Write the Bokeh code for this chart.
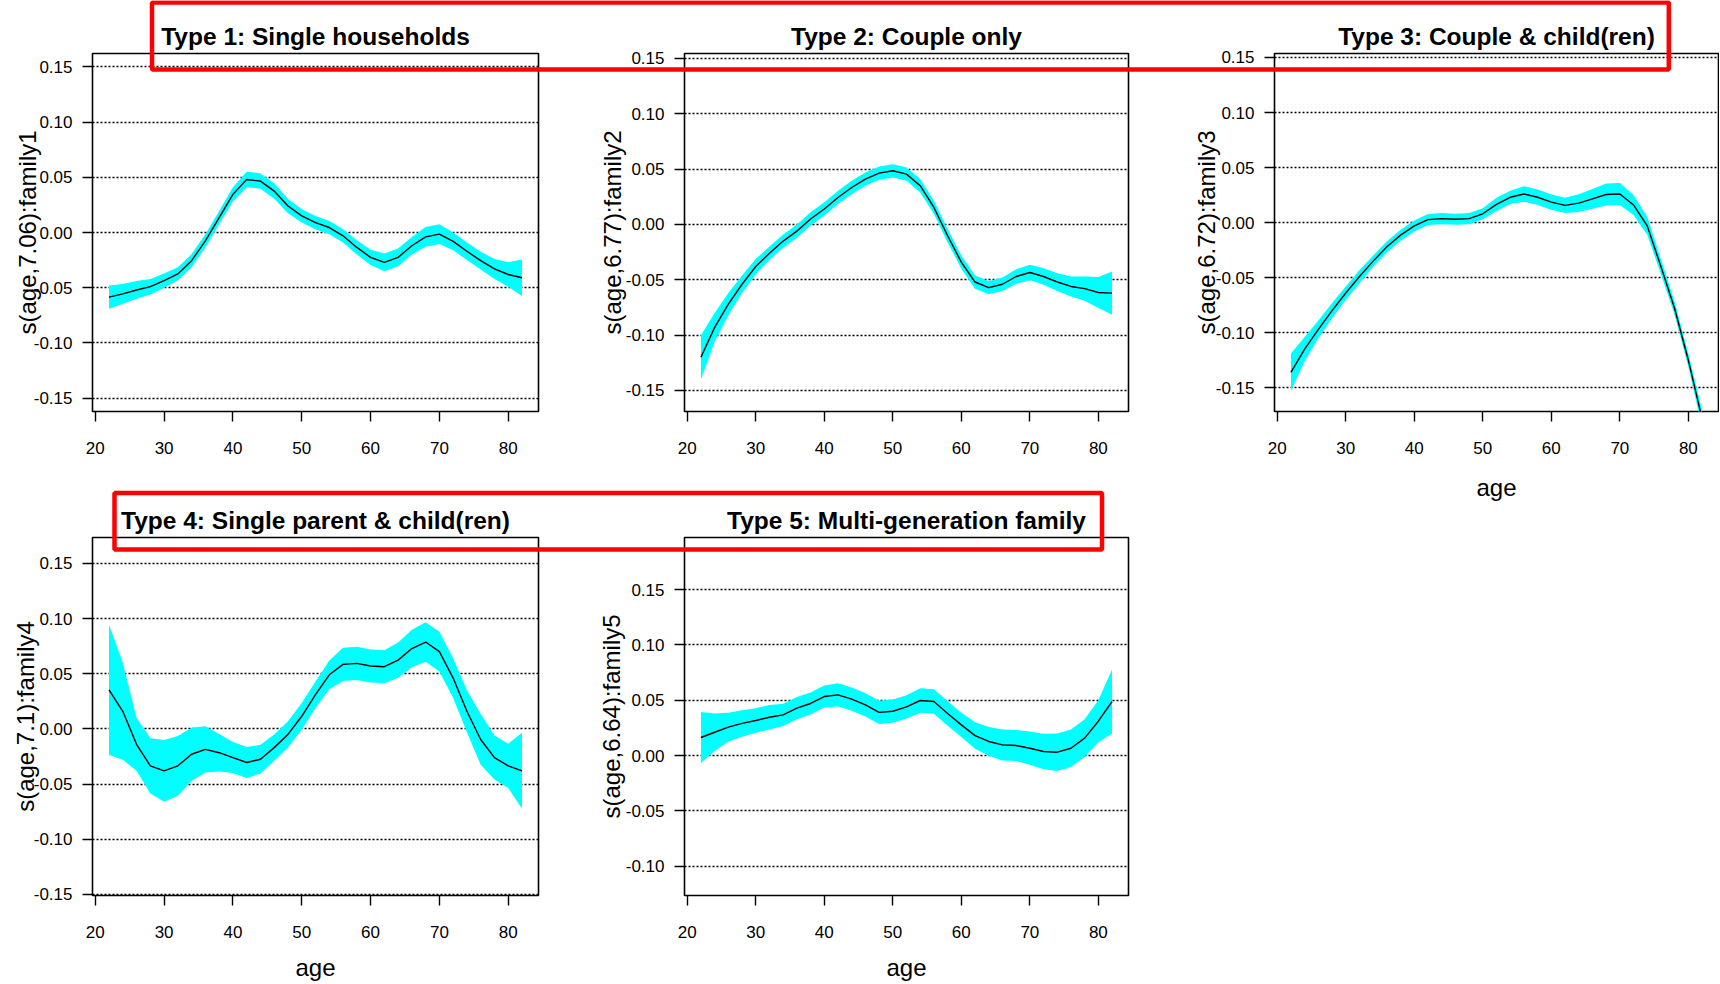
import numpy as np
from bokeh.plotting import figure
from bokeh.layouts import row, column
from bokeh.models import Range1d, FixedTicker, PrintfTickFormatter, BoxAnnotation, ColumnDataSource
from bokeh.embed import file_html
from bokeh.resources import INLINE

# ---------------- data ----------------
ages = [22, 24, 26, 28, 30, 32, 34, 36, 38, 40, 42, 44, 46, 48, 50, 52,
        54, 56, 58, 60, 62, 64, 66, 68, 70, 72, 74, 76, 78, 80, 82]

fit1 = [-0.0585, -0.0555, -0.052, -0.049, -0.0435, -0.0375, -0.0255, -0.0075, 0.0135, 0.0345, 0.048,
        0.0465, 0.0375, 0.024, 0.015, 0.009, 0.0045, -0.003, -0.0135, -0.0225, -0.027, -0.0225,
        -0.012, -0.004, -0.0015, -0.008, -0.017, -0.0255, -0.033, -0.038, -0.041]
se1 = [0.0105, 0.009, 0.008, 0.007, 0.0065, 0.006, 0.006, 0.006, 0.006, 0.0065, 0.007,
       0.007, 0.007, 0.0065, 0.006, 0.006, 0.006, 0.006, 0.0065, 0.007, 0.008, 0.008,
       0.008, 0.009, 0.009, 0.008, 0.008, 0.008, 0.009, 0.011, 0.0165]

fit2 = [-0.120, -0.093, -0.072, -0.054, -0.038, -0.026, -0.015, -0.006, 0.005, 0.014, 0.0244,
        0.0334, 0.041, 0.0464, 0.0485, 0.0455, 0.035, 0.0154, -0.0102, -0.034, -0.052, -0.057,
        -0.054, -0.047, -0.0434, -0.047, -0.052, -0.056, -0.058, -0.0615, -0.062]
se2 = [0.020, 0.013, 0.010, 0.008, 0.007, 0.006, 0.006, 0.006, 0.006, 0.006, 0.006,
       0.006, 0.006, 0.006, 0.006, 0.006, 0.006, 0.006, 0.006, 0.006, 0.006, 0.006,
       0.006, 0.0065, 0.007, 0.0075, 0.008, 0.009, 0.011, 0.014, 0.0195]

fit3 = [-0.136, -0.115, -0.097, -0.080, -0.064, -0.049, -0.035, -0.022, -0.0114, -0.003, 0.0027,
        0.0036, 0.003, 0.0036, 0.008, 0.0165, 0.023, 0.026, 0.023, 0.0186, 0.0156, 0.0177,
        0.0216, 0.0255, 0.026, 0.016, -0.003, -0.040, -0.078, -0.125, -0.178]
se3 = [0.017, 0.011, 0.008, 0.007, 0.006, 0.006, 0.005, 0.005, 0.005, 0.005, 0.005,
       0.005, 0.005, 0.005, 0.005, 0.006, 0.006, 0.007, 0.007, 0.007, 0.007, 0.008,
       0.009, 0.010, 0.010, 0.009, 0.008, 0.007, 0.006, 0.006, 0.008]

fit4 = [0.0353, 0.0159, -0.014, -0.0335, -0.038, -0.0335, -0.023, -0.0186, -0.0216, -0.026, -0.0305,
        -0.0275, -0.017, -0.005, 0.0114, 0.031, 0.049, 0.0584, 0.0593, 0.057, 0.0563, 0.0623,
        0.0728, 0.0787, 0.070, 0.046, 0.0159, -0.0096, -0.026, -0.0335, -0.038]
se4 = [0.059, 0.044, 0.024, 0.025, 0.028, 0.027, 0.024, 0.021, 0.017, 0.014, 0.014,
       0.013, 0.012, 0.012, 0.012, 0.012, 0.013, 0.015, 0.015, 0.015, 0.015, 0.016,
       0.017, 0.018, 0.018, 0.018, 0.019, 0.023, 0.020, 0.020, 0.0345]

fit5 = [0.0163, 0.021, 0.0256, 0.029, 0.0316, 0.0346, 0.0367, 0.0428, 0.047, 0.0533, 0.0548,
        0.051, 0.0458, 0.039, 0.040, 0.044, 0.0497, 0.0488, 0.038, 0.0277, 0.018, 0.0127,
        0.0096, 0.009, 0.0066, 0.0036, 0.003, 0.0066, 0.0157, 0.031, 0.0488]
se5 = [0.023, 0.017, 0.013, 0.012, 0.011, 0.011, 0.010, 0.010, 0.010, 0.010, 0.0105,
       0.0105, 0.0105, 0.0105, 0.0105, 0.0105, 0.011, 0.011, 0.011, 0.011, 0.012, 0.013,
       0.014, 0.014, 0.015, 0.016, 0.017, 0.017, 0.017, 0.019, 0.029]

titles = ["Type 1: Single households", "Type 2: Couple only", "Type 3: Couple & child(ren)",
          "Type 4: Single parent & child(ren)", "Type 5: Multi-generation family"]
ylabels = ["s(age,7.06):family1", "s(age,6.77):family2", "s(age,6.72):family3",
           "s(age,7.1):family4", "s(age,6.64):family5"]
ylims = [(-0.162, 0.162), (-0.169, 0.1545), (-0.1716, 0.1536), (-0.151, 0.1734), (-0.1265, 0.197)]
yticks = [-0.15, -0.10, -0.05, 0.0, 0.05, 0.10, 0.15]
xticks = [20, 30, 40, 50, 60, 70, 80]

FONT = "Liberation Sans"
PAGE_W, PAGE_H = 1719, 984


def make_panel(fit, se, title, ylabel, ylim, bl, fw, br, bt, fh, bb, als, xlabel=None, xals=15):
    span = max(ages) - min(ages)
    xr = (min(ages) - 0.04 * span, max(ages) + 0.04 * span)
    p = figure(frame_width=fw, frame_height=fh,
               min_border_left=bl, min_border_right=br, min_border_top=bt, min_border_bottom=bb,
               x_range=Range1d(*xr), y_range=Range1d(*ylim),
               output_backend="svg", toolbar_location=None, title=title)
    p.background_fill_color = "white"
    p.border_fill_color = "white"
    p.outline_line_color = "black"
    p.outline_line_width = 1.6
    p.outline_line_alpha = 1.0

    p.title.text_font = FONT
    p.title.text_font_size = "24.5px"
    p.title.text_font_style = "bold"
    p.title.text_color = "black"
    p.title.align = "center"
    p.title.standoff = 8

    p.xgrid.visible = False
    p.ygrid.ticker = FixedTicker(ticks=yticks)
    p.ygrid.grid_line_color = "black"
    p.ygrid.grid_line_dash = "2 2"
    p.ygrid.grid_line_width = 1.5

    for ax in (p.xaxis[0], p.yaxis[0]):
        ax.axis_line_color = None
        ax.major_tick_out = 10
        ax.major_tick_in = 0
        ax.major_tick_line_color = "black"
        ax.major_tick_line_width = 1.4
        ax.minor_tick_line_color = None
        ax.major_label_text_font = FONT
        ax.major_label_text_font_size = "17px"
        ax.major_label_text_color = "black"
        ax.axis_label_text_font = FONT
        ax.axis_label_text_font_size = "24px"
        ax.axis_label_text_font_style = "normal"
        ax.axis_label_text_color = "black"

    p.yaxis[0].ticker = FixedTicker(ticks=yticks)
    p.yaxis[0].formatter = PrintfTickFormatter(format="%.2f")
    p.yaxis[0].major_label_standoff = 10
    p.yaxis[0].axis_label = ylabel
    p.yaxis[0].axis_label_standoff = als

    p.xaxis[0].ticker = FixedTicker(ticks=xticks)
    p.xaxis[0].major_label_standoff = 20
    if xlabel:
        p.xaxis[0].axis_label = xlabel
        p.xaxis[0].axis_label_standoff = xals

    fit_a = np.array(fit)
    se_a = np.array(se)
    src = ColumnDataSource(dict(age=ages, fit=fit_a, lo=fit_a - se_a, hi=fit_a + se_a))
    p.varea(x="age", y1="lo", y2="hi", source=src, fill_color="#00FFFF", fill_alpha=1.0)
    p.line(x="age", y="fit", source=src, line_color="black", line_width=1.4)
    return p


# ---------------- panels ----------------
# row 1: canvases x 0-590, 590-1184, 1184-1719 ; row 2: 0-590, 590-1184
p1 = make_panel(fit1, se1, titles[0], ylabels[0], ylims[0], 92, 446, 52, 53, 358, 69, -10)
p2 = make_panel(fit2, se2, titles[1], ylabels[1], ylims[1], 94, 444, 56, 53, 358, 69, -3)
p3 = make_panel(fit3, se3, titles[2], ylabels[2], ylims[2], 90, 444, 1, 53, 358, 110, -7, "age", 17)
p4 = make_panel(fit4, se4, titles[3], ylabels[3], ylims[3], 92, 446, 52, 57, 358, 89, -8, "age", 13)
p5 = make_panel(fit5, se5, titles[4], ylabels[4], ylims[4], 94, 444, 56, 57, 358, 89, -2, "age", 13)

main = row(column(row(p1, p2), row(p4, p5)), p3)

# transparent overlay carrying the red highlight rectangles (page pixel coordinates)
ov = figure(width=PAGE_W, height=PAGE_H, x_range=Range1d(0, PAGE_W), y_range=Range1d(PAGE_H, 0),
            output_backend="svg", toolbar_location=None, min_border=0,
            x_axis_location=None, y_axis_location=None,
            background_fill_color=None, border_fill_color=None, outline_line_color=None)
ov.grid.visible = False
ov.margin = (-PAGE_H, 0, 0, 0)
for l, r, t, b in [(151.5, 1668.3, 2, 69), (114, 1101.5, 492.5, 549)]:
    ov.add_layout(BoxAnnotation(left=l, right=r, top=t, bottom=b,
                                fill_color=None, fill_alpha=0, line_color="#FF0000",
                                line_width=4.5, line_alpha=1.0))

layout = column(main, ov)

open("out.html", "w").write(file_html(layout, INLINE))
